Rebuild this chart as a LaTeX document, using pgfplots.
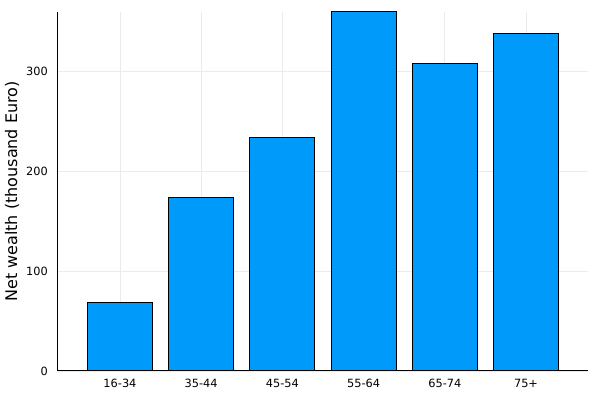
\documentclass[border=0pt]{standalone}
\usepackage{fontspec}
\setmainfont{DejaVu Sans}
\usepackage{pgfplots}
\pgfplotsset{compat=1.18}
\definecolor{jblue}{RGB}{0,154,250}
\begin{document}
\begin{tikzpicture}
\path[use as bounding box] (0,0) rectangle (450pt,300pt);
\begin{axis}[
  at={(43.5pt,21.75pt)}, anchor=south west,
  scale only axis, width=397.5pt, height=269.25pt,
  xmin=0.237, xmax=6.763, ymin=0, ymax=359.3,
  axis x line*=bottom, axis y line*=left,
  axis line style={-, line width=0.75pt, black},
  major tick length=0pt,
  xtick={1,2,3,4,5,6},
  xticklabels={16-34,35-44,45-54,55-64,65-74,75+},
  ytick={0,100,200,300},
  xmajorgrids, ymajorgrids,
  major grid style={line width=0.5pt, black!8},
  /pgf/number format/assume math mode=true,
  tick label style={font=\fontsize{8.5}{10}\selectfont},
  yticklabel style={anchor=east, inner sep=0pt, xshift=-7.5pt},
  xticklabel style={anchor=north, inner sep=0pt, yshift=-5.9pt},
  ylabel={Net wealth (thousand Euro)},
  every axis y label/.style={at={(axis description cs:0,0.5)}, rotate=90, anchor=center, yshift=34.5pt, font=\fontsize{12}{14}\selectfont},
  clip=false,
]
\addplot[ybar, bar width=0.8, fill=jblue, draw=black, line width=0.75pt] coordinates {
  (1,68.7) (2,173.3) (3,233.7) (4,359.3) (5,307.7) (6,337.3)
};
\end{axis}
\end{tikzpicture}
\end{document}
